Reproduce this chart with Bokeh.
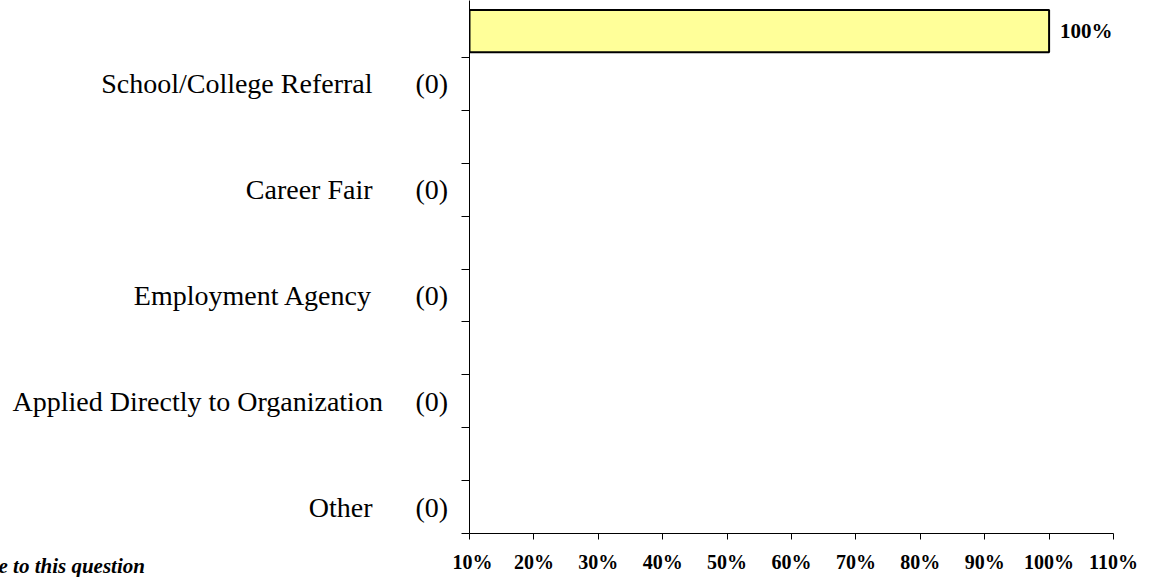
from bokeh.plotting import figure
from bokeh.layouts import row
from bokeh.models import Range1d, FixedTicker, ColumnDataSource, Title
from bokeh.core.properties import value
from bokeh.embed import file_html
from bokeh.resources import INLINE

# ---- data ----
categories = ["School/College Referral", "Career Fair", "Employment Agency",
              "Applied Directly to Organization", "Other"]
counts = [0, 0, 0, 0, 0]
top_bar_value = 100          # percent (bar of the category above the visible area)
tick_values = [10, 20, 30, 40, 50, 60, 70, 80, 90, 100, 110]
tick_labels = ["10%", "20%", "30%", "40%", "50%", "60%", "70%", "80%", "90%", "100%", "110%"]
footnote = "e to this question"

# ---- layout constants ----
FONT = "Liberation Serif"
W, H = 1149, 577
LEFT_W = 452                 # width of the label panel figure
FRAME_LEFT = 469
FRAME_RIGHT = 1113
FRAME_BOTTOM = 533
PX_PER_UNIT = 476 / 4.5
n = len(categories)
ypos = [n - 1 - i for i in range(n)]          # School=4 ... Other=0
bar_y = n - 0.5
y_range = Range1d(-0.25, (n - 0.75) + 57 / PX_PER_UNIT)

# ---------- label panel ----------
lp = figure(width=LEFT_W, height=H, output_backend="svg", toolbar_location=None,
            x_range=Range1d(0, LEFT_W), y_range=y_range,
            min_border_left=0, min_border_right=0, min_border_top=0,
            min_border_bottom=H - FRAME_BOTTOM,
            x_axis_location=None, y_axis_location=None)
lp.outline_line_color = None
lp.grid.visible = False

longest = max(categories, key=len)
name_x = [12 if c == longest else 372 for c in categories]
name_align = ["left" if c == longest else "right" for c in categories]
lsrc = ColumnDataSource(dict(x=name_x, y=ypos, text=categories, align=name_align))
lp.text(x="x", y="y", text="text", source=lsrc, text_align="align",
        text_baseline="middle", text_font=value(FONT), text_font_size="28px",
        text_color="black")
csrc = ColumnDataSource(dict(x=[415] * n, y=ypos, text=[f"({c})" for c in counts]))
lp.text(x="x", y="y", text="text", source=csrc, text_align="left",
        text_baseline="middle", text_font=value(FONT), text_font_size="28px",
        text_color="black")
# spacer (blank) then the footnote, stacked below the frame
lp.add_layout(Title(text=" ", standoff=0, text_font=FONT, text_font_size="15px"), "below")
lp.add_layout(Title(text=footnote, align="left", offset=-2, standoff=0,
                    text_font=FONT, text_font_size="21px",
                    text_font_style="bold italic", text_color="black"), "below")

# ---------- chart ----------
p = figure(width=W - LEFT_W, height=H, output_backend="svg", toolbar_location=None,
           x_range=Range1d(tick_values[0], tick_values[-1]),
           y_range=y_range,
           min_border_left=FRAME_LEFT - LEFT_W, min_border_right=W - FRAME_RIGHT,
           min_border_top=0, min_border_bottom=H - FRAME_BOTTOM)
p.outline_line_color = None
p.grid.visible = False

src = ColumnDataSource(dict(y=[bar_y], right=[top_bar_value], left=[tick_values[0]]))
p.hbar(y="y", left="left", right="right", height=0.4, source=src,
       fill_color="#FFFF99", line_color="black", line_width=2)
p.text(x=[top_bar_value], y=[bar_y], text=[f"{top_bar_value}%"], x_offset=11,
       text_align="left", text_baseline="middle", text_font=value(FONT),
       text_font_size="21px", text_font_style="bold", text_color="black")

xa = p.xaxis[0]
xa.ticker = FixedTicker(ticks=tick_values)
xa.major_label_overrides = {v: l for v, l in zip(tick_values, tick_labels)}
xa.major_tick_out = 6
xa.major_tick_in = 0
xa.minor_tick_out = 0
xa.minor_tick_in = 0
xa.axis_line_color = "black"
xa.major_tick_line_color = "black"
xa.major_label_text_font = FONT
xa.major_label_text_font_style = "bold"
xa.major_label_text_font_size = "20px"
xa.major_label_text_color = "black"
xa.major_label_standoff = 11

ya = p.yaxis[0]
edges = sorted(set([y - 0.25 for y in ypos] + [y + 0.25 for y in ypos]))
ya.ticker = FixedTicker(ticks=edges)
ya.major_label_text_font_size = "0px"
ya.major_label_standoff = 0
ya.major_tick_out = 8
ya.major_tick_in = 0
ya.minor_tick_out = 0
ya.minor_tick_in = 0
ya.axis_line_color = "black"
ya.major_tick_line_color = "black"

layout = row(lp, p)
open("out.html", "w").write(file_html(layout, INLINE))
